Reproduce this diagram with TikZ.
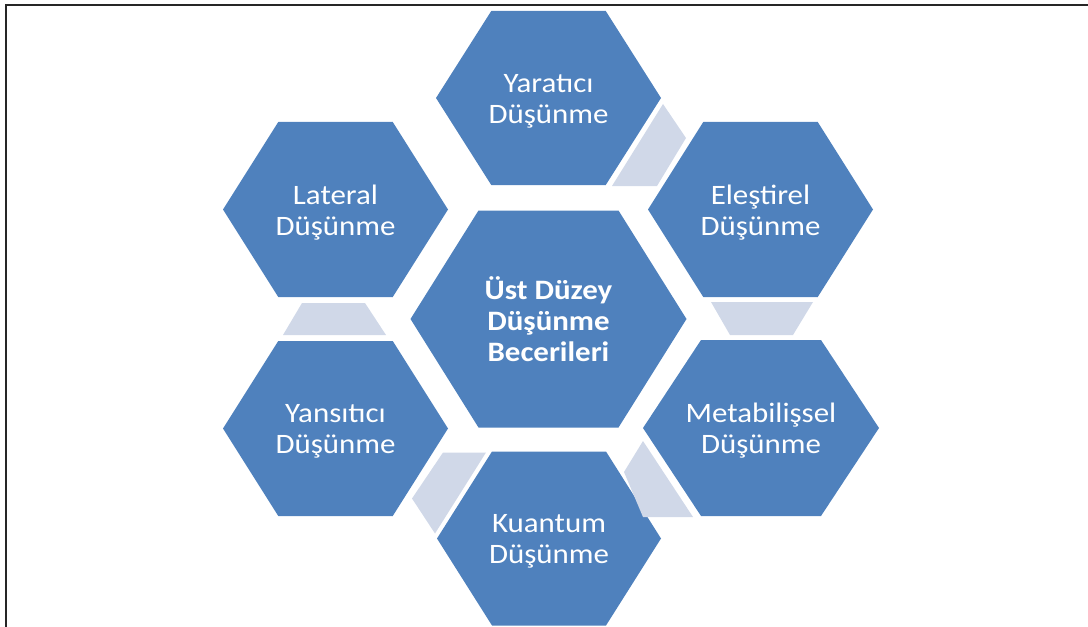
\documentclass[tikz,border=0pt]{standalone}
\usepackage{fontspec}
\setmainfont[FakeStretch=1.1]{Carlito}
\usetikzlibrary{calc}
\definecolor{hexblue}{RGB}{79,129,189}
\definecolor{linkgrey}{RGB}{208,216,232}
\newcommand{\cellfont}{\fontsize{20}{22}\selectfont}

\begin{document}
\begin{tikzpicture}[
    x=0.25mm, y=-0.25mm,
    cell/.style={fill=hexblue},
    link/.style={fill=linkgrey},
    celltext/.style={text=white, align=center, font=\cellfont}
]
\useasboundingbox (0,0) rectangle (1088,627);

% Frame
\draw[line width=0.5mm, black!85] (6,627) -- (6,5) -- (1088,5);

% Centre hexagon
\fill[cell] (410.5,319) -- (478.5,210.5) -- (618.5,210.5) -- (686.5,319) -- (618.5,427.5) -- (478.5,427.5) -- cycle;
\node[celltext, font=\cellfont\bfseries] (core) at (548.5,319) {Üst Düzey\\Düşünme\\Becerileri};

% Outer hexagons
\foreach \n/\cx/\cy/\hw/\hh/\txt in {
    yar/548.5/98/112.5/87/{Yaratıcı\\Düşünme},
    ele/760.5/209.5/112.5/87.5/{Eleştirel\\Düşünme},
    met/761/428/118/88/{Metabilişsel\\Düşünme},
    kua/549/538.5/112/87/{Kuantum\\Düşünme},
    yan/335.5/428.5/112.5/87.5/{Yansıtıcı\\Düşünme},
    lat/335.5/209.5/112.5/87.5/{Lateral\\Düşünme}}
{
    \fill[cell, shift={(\cx,\cy)}] (-\hw,0) -- ({-\hw/2-1},-\hh) -- ({\hw/2+1},-\hh) -- (\hw,0) -- ({\hw/2+1},\hh) -- ({-\hw/2-1},\hh) -- cycle;
    \node[celltext] (\n) at (\cx,\cy+3) {\txt};
}

% Links
\fill[link] ($(yar)+(114.5,3)$) -- ($(yar)+(137.5,37)$) -- ($(yar)+(108.5,85)$) -- ($(yar)+(63.5,85)$) -- cycle;
\fill[link] ($(ele)+(-49.5,89.5)$) -- ($(ele)+(52.5,89.5)$) -- ($(ele)+(32.5,122.5)$) -- ($(ele)+(-30.5,122.5)$) -- cycle;
\fill[link] ($(met)+(-118,10)$) -- ($(met)+(-137,41)$) -- ($(met)+(-118,86)$) -- ($(met)+(-68,86)$) -- cycle;
\fill[link] ($(kua)+(-106,-89)$) -- ($(kua)+(-63,-89)$) -- ($(kua)+(-114,-8)$) -- ($(kua)+(-137,-43)$) -- cycle;
\fill[link] ($(yan)+(-33.5,-128.5)$) -- ($(yan)+(29.5,-128.5)$) -- ($(yan)+(50.5,-96.5)$) -- ($(yan)+(-52.5,-96.5)$) -- cycle;

\end{tikzpicture}
\end{document}
